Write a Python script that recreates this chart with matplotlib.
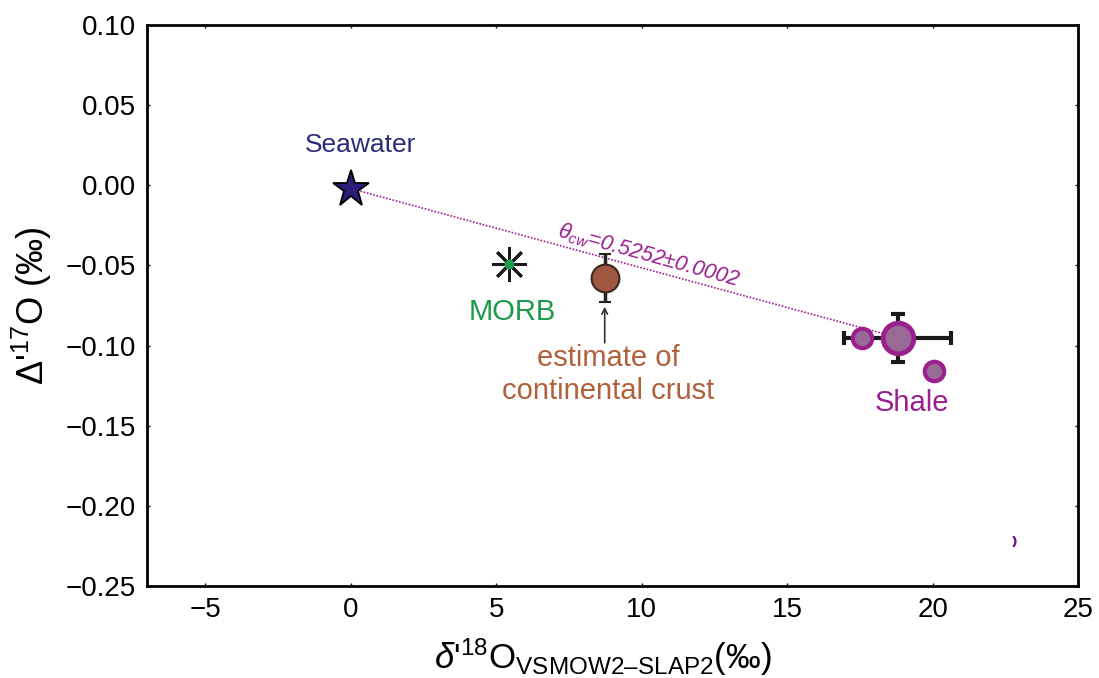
import matplotlib
matplotlib.use("Agg")
import matplotlib.pyplot as plt

plt.rcParams['font.family'] = ['Liberation Sans', 'DejaVu Sans']
plt.rcParams['mathtext.fontset'] = 'custom'
plt.rcParams['mathtext.rm'] = 'Liberation Sans'
plt.rcParams['mathtext.it'] = 'Liberation Sans:italic'

# values
seawater = (0.0, -0.002)
morb = (5.45, -0.049)
crust = (8.73, -0.058)
crust_yerr = 0.015
shale_mean = (18.8, -0.095)
shale_xerr = 1.83
shale_yerr = 0.015
shale_x = [17.57, 20.03]
shale_y = [-0.095, -0.116]
stray = (22.8, -0.222)

xticks = [-5, 0, 5, 10, 15, 20, 25]
yticks = [0.10, 0.05, 0.00, -0.05, -0.10, -0.15, -0.20, -0.25]

fig = plt.figure(figsize=(10.99, 6.78), dpi=100)
ax = fig.add_axes([0.1338, 0.1357, 0.8472, 0.8273])

purple = '#9b1f8e'

# trend line seawater -> shale
ax.plot([seawater[0], shale_mean[0]], [seawater[1], shale_mean[1]], ls=(0, (1, 1)),
        color=purple, lw=1.2, zorder=2)

ax.plot(*seawater, marker='*', ms=28, mfc='#2b1c7a', mec='black', mew=1.3, zorder=5)

ax.plot(*morb, marker=(8, 2, 0), ms=25, mec='#1a1a1a', mew=2, zorder=5)
ax.plot(*morb, marker='o', ms=6, mfc='#1aa04a', mec='#1aa04a', zorder=6)

ax.errorbar(crust[0], crust[1], yerr=crust_yerr, fmt='o', ms=20, mfc='#a0573f', mec='#3a2a20',
            mew=1.5, ecolor='#222222', elinewidth=2.5, capsize=4, capthick=2.5, zorder=5)

ax.errorbar(shale_mean[0], shale_mean[1], xerr=shale_xerr, yerr=shale_yerr, fmt='none',
            ecolor='#1a1a1a', elinewidth=3, capsize=5, capthick=3, zorder=4)
ax.plot(shale_x, shale_y, 'o', ms=14, mfc='#9a6a96', mec=purple, mew=3, zorder=5)
ax.plot(*shale_mean, marker='o', ms=22, mfc='#9a6a96', mec=purple, mew=3.5, zorder=6)

ax.plot(*stray, marker='$)$', ms=7, color='#6a1a7a', zorder=5)

# labels
ax.text(0.35, 0.025, 'Seawater', color='#2e2a7a', fontsize=19, ha='center', va='center')
ax.text(5.55, -0.079, 'MORB', color='#1a9a4a', fontsize=21, ha='center', va='center')
ax.text(8.85, -0.118, 'estimate of\ncontinental crust', color='#b0603a', fontsize=21,
        ha='center', va='center', linespacing=1.2)
ax.annotate('', xy=(crust[0], -0.074), xytext=(crust[0], -0.100),
            arrowprops=dict(arrowstyle='->', color='#333333', lw=1.2))
ax.text(19.3, -0.136, 'Shale', color=purple, fontsize=21, ha='center', va='center')
ax.text(10.25, -0.044, r'$\theta_{\mathregular{cw}}$=0.5252$\pm$0.0002', color=purple,
        fontsize=15.5, style='italic', rotation=-15.4, ha='center', va='center',
        rotation_mode='anchor')

ax.set_xlim(-7, 25)
ax.set_ylim(-0.25, 0.10)
ax.set_xticks(xticks)
ax.set_yticks(yticks)
ax.set_xticklabels([f'{t}'.replace('-', '\u2212') for t in xticks])
ax.set_yticklabels([f'{t:.2f}'.replace('-', '\u2212') for t in yticks])
ax.tick_params(direction='in', length=2, width=1, labelsize=20, pad=8, top=True, right=True)
for s in ax.spines.values():
    s.set_linewidth(2)

ax.set_xlabel(r"$\delta$'$^{18}$O$_{\mathregular{VSMOW2–SLAP2}}$(‰)", fontsize=25, labelpad=6)
ax.xaxis.set_label_coords(0.49, -0.09)
ax.set_ylabel(r"$\Delta$'$^{17}$O (‰)", fontsize=26, labelpad=8)

fig.savefig('out.png', dpi=100)
